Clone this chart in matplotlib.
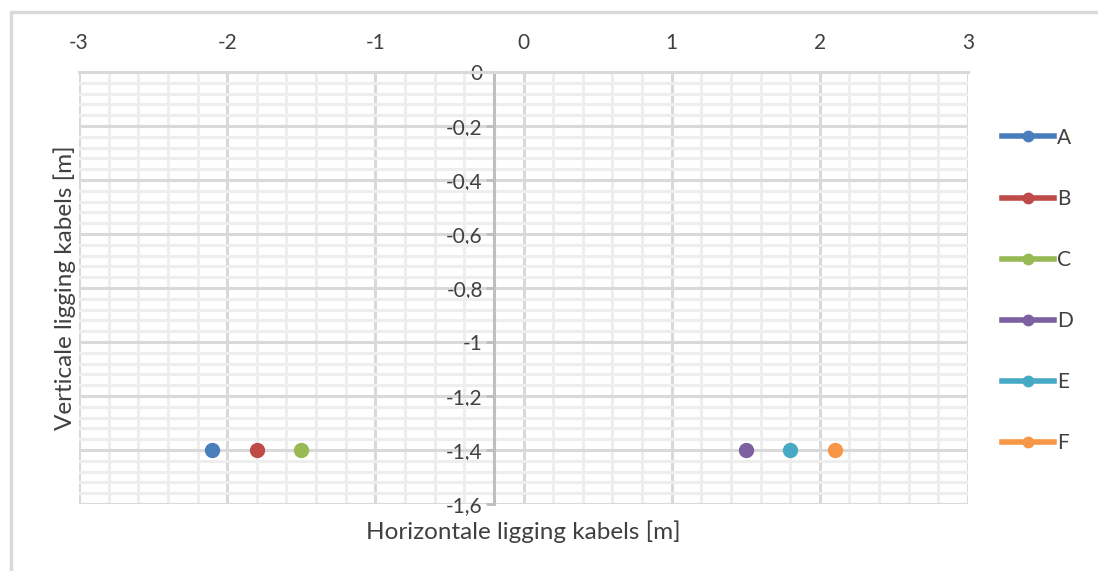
import numpy as np
import matplotlib.pyplot as plt
from matplotlib.ticker import MultipleLocator, FuncFormatter
from matplotlib.lines import Line2D
from matplotlib.patches import Rectangle

plt.rcParams['font.family'] = ['Lato', 'DejaVu Sans']

# kabelposities
labels = ['A', 'B', 'C', 'D', 'E', 'F']
x_pos = [-2.1, -1.8, -1.5, 1.5, 1.8, 2.1]
y_pos = [-1.4, -1.4, -1.4, -1.4, -1.4, -1.4]
colors = ['#4a7ebb', '#be4b48', '#98b954', '#7d60a0', '#46aac5', '#f79646']

txt = '#404040'
fig = plt.figure(figsize=(10.98, 5.71), dpi=100)
ax = fig.add_axes([79 / 1098, 1 - 504 / 571, 889 / 1098, 432 / 571])

for lab, xv, yv, c in zip(labels, x_pos, y_pos, colors):
    ax.plot([xv], [yv], 'o', color=c, markersize=10, label=lab, zorder=5, clip_on=False)

ax.set_xlim(-3, 3)
ax.set_ylim(-1.6, 0)
ax.xaxis.set_major_locator(MultipleLocator(1))
ax.xaxis.set_minor_locator(MultipleLocator(0.2))
ax.yaxis.set_major_locator(MultipleLocator(0.2))
ax.yaxis.set_minor_locator(MultipleLocator(0.04))

fmt = FuncFormatter(lambda v, p: ('%g' % round(v, 2)).replace('.', ','))
ax.xaxis.set_major_formatter(fmt)
ax.yaxis.set_major_formatter(fmt)

ax.grid(which='minor', color='#eeeeee', linewidth=2.2)
ax.grid(which='major', color='#d9d9d9', linewidth=2.2)
ax.set_axisbelow(True)

ax.xaxis.tick_top()
ax.tick_params(axis='x', which='both', length=0, pad=14, labelsize=15, labelcolor=txt)
ax.tick_params(axis='y', which='major', length=6, width=2, color='#bfbfbf', pad=2, labelsize=15, labelcolor=txt)
ax.tick_params(axis='y', which='minor', length=0)

ax.spines['left'].set_position(('data', -0.2))
ax.spines['left'].set_color('#bfbfbf')
ax.spines['left'].set_linewidth(2.2)
ax.spines['top'].set_color('#d9d9d9')
ax.spines['top'].set_linewidth(2.2)
ax.spines['right'].set_visible(False)
ax.spines['bottom'].set_visible(False)

fig.text(523 / 1098, 1 - 532 / 571, 'Horizontale ligging kabels [m]', ha='center', va='center',
         fontsize=17.5, color=txt)
fig.text(65 / 1098, 1 - 288 / 571, 'Verticale ligging kabels [m]', ha='center', va='center',
         rotation=90, fontsize=17.5, color=txt)

handles = [Line2D([0], [0], color=c, lw=4, marker='o', markersize=7.5) for c in colors]
fig.legend(handles, labels, loc='upper left', bbox_to_anchor=(983 / 1098, 1 - 109 / 571),
           frameon=False, fontsize=15, labelspacing=1.97, handlelength=2.5, handletextpad=0.15,
           labelcolor=txt)

fig.patches.append(Rectangle((11 / 1098, -0.1), 1.2, 1.1 - 12 / 571, transform=fig.transFigure,
                             fill=False, edgecolor='#d9d9d9', linewidth=2.5))

fig.savefig('out.png', dpi=100)
